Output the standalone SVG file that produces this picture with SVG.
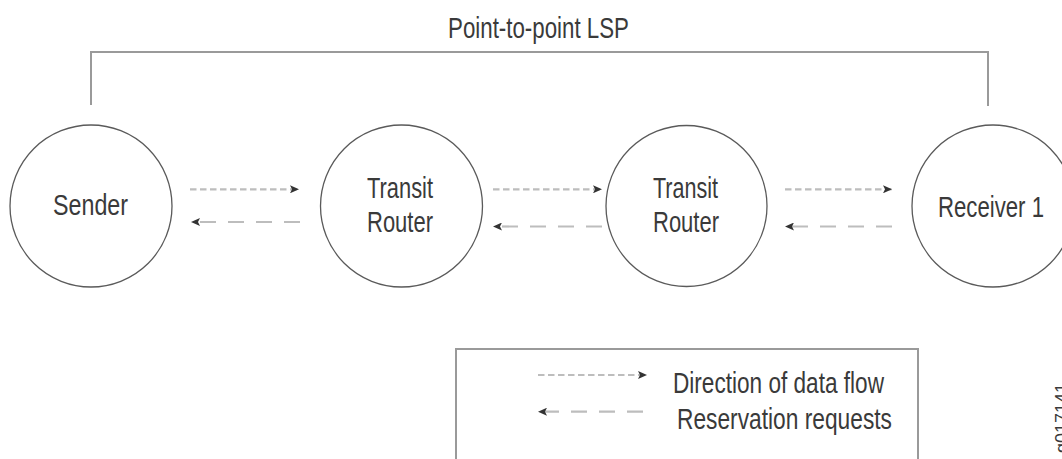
<svg xmlns="http://www.w3.org/2000/svg" width="1062" height="459" viewBox="0 0 1062 459">
<style>
  .lbl { font-family: "Liberation Sans", Arial, sans-serif; font-size: 29px; fill: #3a3a3a; }
  .node { fill: #ffffff; stroke: #5a5a5a; stroke-width: 1.3; }
  .frame { fill: none; stroke: #9a9a9a; stroke-width: 2; }
  .data { stroke: #bdbdbd; stroke-width: 2.2; stroke-dasharray: 6.5 3.5; fill: none; }
  .resv { stroke: #bdbdbd; stroke-width: 2.2; stroke-dasharray: 16 12; fill: none; }
</style>
<defs>
  <marker id="ah" markerUnits="userSpaceOnUse" markerWidth="10" markerHeight="8" refX="9" refY="4" orient="auto">
    <path d="M0,0 L9,4 L0,8 L2,4 Z" fill="#333333"/>
  </marker>
</defs>
<rect width="1062" height="459" fill="#ffffff"/>

<g id="lsp">
  <path class="frame" d="M91,105 V52 H988 V106"/>
  <text class="lbl" x="448" y="37.5" textLength="181" lengthAdjust="spacingAndGlyphs">Point-to-point LSP</text>
</g>

<g id="sender">
  <circle class="node" cx="91" cy="206" r="81"/>
  <text class="lbl" x="53" y="215" textLength="75" lengthAdjust="spacingAndGlyphs">Sender</text>
</g>
<g id="transit1">
  <circle class="node" cx="401.5" cy="206" r="81"/>
  <text class="lbl" x="367" y="198" textLength="66" lengthAdjust="spacingAndGlyphs">Transit</text>
  <text class="lbl" x="367" y="232" textLength="66" lengthAdjust="spacingAndGlyphs">Router</text>
</g>
<g id="transit2">
  <circle class="node" cx="686.5" cy="206" r="80.5"/>
  <text class="lbl" x="653" y="198" textLength="65" lengthAdjust="spacingAndGlyphs">Transit</text>
  <text class="lbl" x="653" y="232" textLength="66" lengthAdjust="spacingAndGlyphs">Router</text>
</g>
<g id="receiver1">
  <circle class="node" cx="993" cy="206" r="81"/>
  <text class="lbl" x="938" y="216.5" textLength="106" lengthAdjust="spacingAndGlyphs">Receiver 1</text>
</g>

<g id="connectors">
  <line class="data" x1="190" y1="189.3" x2="299" y2="189.3" marker-end="url(#ah)"/>
  <line class="resv" x1="300" y1="222" x2="191" y2="222" marker-end="url(#ah)"/>
  <line class="data" x1="493" y1="189.3" x2="602" y2="189.3" marker-end="url(#ah)"/>
  <line class="resv" x1="602" y1="226.5" x2="493" y2="226.5" marker-end="url(#ah)"/>
  <line class="data" x1="785" y1="189.3" x2="892" y2="189.3" marker-end="url(#ah)"/>
  <line class="resv" x1="892" y1="226.5" x2="785" y2="226.5" marker-end="url(#ah)"/>
</g>

<g id="legend">
  <path class="frame" d="M456,470 V349 H918 V470" stroke-width="1.6"/>
  <line class="data" x1="538" y1="375" x2="647" y2="375" marker-end="url(#ah)"/>
  <line class="resv" x1="643" y1="411.7" x2="538" y2="411.7" marker-end="url(#ah)"/>
  <text class="lbl" x="673" y="393" textLength="211" lengthAdjust="spacingAndGlyphs">Direction of data flow</text>
  <text class="lbl" x="677" y="429" textLength="215" lengthAdjust="spacingAndGlyphs">Reservation requests</text>
</g>

<text class="lbl" transform="translate(1068,383) rotate(-90)" text-anchor="end" style="font-size:18px">g017141</text>
</svg>
